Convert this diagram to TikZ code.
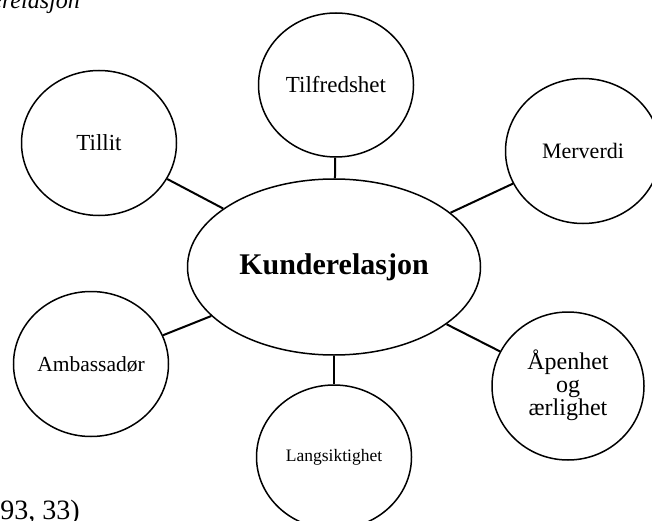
\documentclass[tikz,border=0pt]{standalone}
\usepackage{fontspec}
\setmainfont{Liberation Serif}
\usetikzlibrary{shapes.geometric}
\begin{document}
\begin{tikzpicture}[x=1pt,y=-1pt,
  bubble/.style={ellipse, draw, line width=1.5pt, inner sep=0pt,
    minimum width=155, minimum height=145, align=center},
  hub/.style={ellipse, draw, line width=1.5pt, inner sep=0pt,
    minimum width=293, minimum height=176},
  spoke/.style={line width=2pt},
  lbl/.style={font=\fontsize{#1}{#1}\selectfont}]
\useasboundingbox (0,0) rectangle (652,521);

% caption fragments at the top and bottom edges
\node[anchor=base east, inner sep=0pt, font=\fontsize{24}{24}\selectfont\itshape]
  (cap) at (80,9) {Kunderelasjon};
\node[anchor=base east, inner sep=0pt, font=\fontsize{28}{28}\selectfont]
  (src) at (80,519) {93, 33)};

% central concept
\node[hub, font=\fontsize{30}{30}\selectfont\bfseries] (kunde) at (334,267) {Kunderelasjon};

% surrounding concepts
\node[bubble, lbl=23] (tillit) at (99,143) {Tillit};
\node[bubble, lbl=23, minimum height=144] (tilf) at (336,85) {Tilfredshet};
\node[bubble, lbl=22] (merv) at (583,151) {Merverdi};
\node[bubble, lbl=21.5] (amb) at (91,364) {Ambassadør};
\node[bubble, lbl=17.5, minimum height=144] (lang) at (334,457) {Langsiktighet};
\node[bubble, minimum width=152, minimum height=148,
  font=\fontsize{24}{23}\selectfont] (apen) at (568,386)
  {\raisebox{-4pt}{\begin{tabular}{@{}c@{}}Åpenhet\\og\\ærlighet\end{tabular}}};

% spokes
\foreach \n in {tillit, tilf, merv, amb, lang, apen}
  \draw[spoke] (\n) -- (kunde);
\end{tikzpicture}
\end{document}
